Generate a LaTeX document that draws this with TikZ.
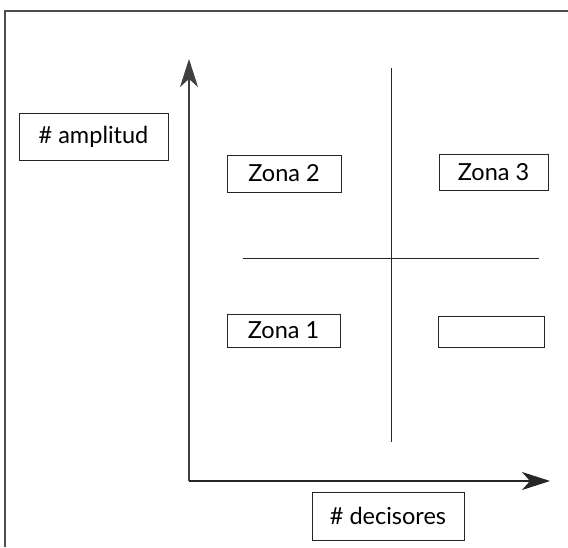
\documentclass[tikz,border=0pt]{standalone}
\usepackage{fontspec}
\setmainfont{Lato}
\usetikzlibrary{arrows.meta}
\tikzset{bigtip/.tip={Stealth[length=28pt,width=18pt,inset=8pt]}}
\tikzset{zonebox/.style={draw=black!85,line width=0.9pt,inner sep=0pt,font=\fontsize{23.5}{27}\selectfont}}

\begin{document}
\begin{tikzpicture}[x=1pt,y=-1pt]
    \useasboundingbox (0,0) rectangle (568,547);
    \draw[black!70,line width=1.1pt] (5,547) -- (5,11) -- (568,11);
    \node[zonebox,minimum width=149pt,minimum height=47pt] (ampl) at (93.5,136.5) {\# amplitud};
    \node[zonebox,minimum width=114pt,minimum height=37pt] (zona2) at (284,173.5) {Zona 2};
    \node[zonebox,minimum width=109pt,minimum height=36pt] (zona3) at (493.5,172) {Zona 3};
    \node[zonebox,minimum width=113pt,minimum height=33pt] (zona1) at (283.5,330.5) {Zona 1};
    \node[zonebox,minimum width=106pt,minimum height=31pt] (zona4) at (491,331.5) {};
    \node[zonebox,minimum width=152pt,minimum height=48pt] (decis) at (388,516) {\# decisores};
    \coordinate (orig) at (189,481);
    \coordinate (ytip) at (189,59);
    \coordinate (xtip) at (550,481);
    \draw[-bigtip,black!75,line width=1.1pt] (orig) -- (ytip);
    \draw[-bigtip,black!85,line width=1.1pt] (orig) -- (xtip);
    \draw[black!85,line width=0.9pt] (391,68) -- (391,442);
    \draw[black!85,line width=0.9pt] (243,258) -- (539,258);
  \end{tikzpicture}
\end{document}
